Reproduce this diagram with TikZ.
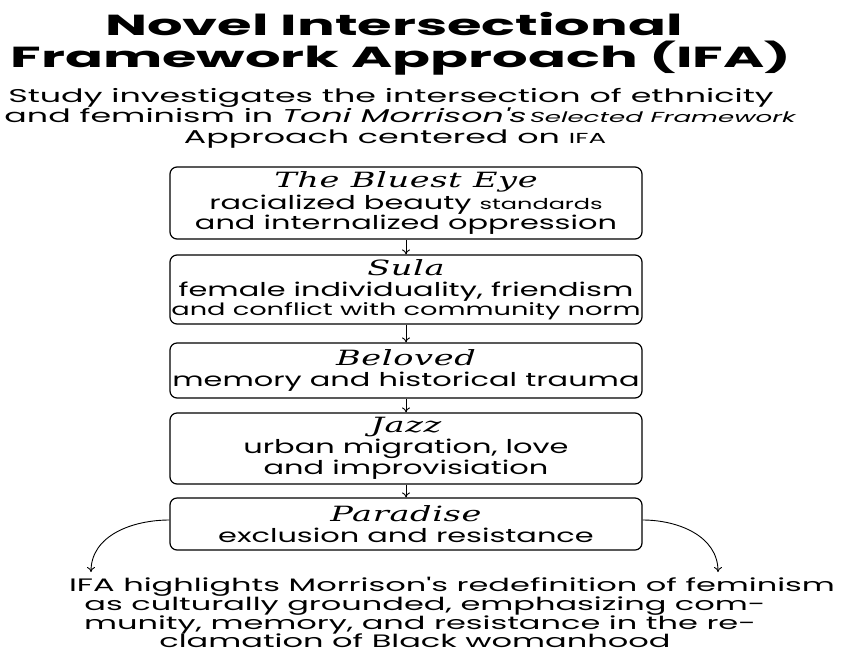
\documentclass[tikz,border=0pt]{standalone}
\usepackage{fontspec}
\setmainfont{Poppins}[FakeStretch=1.6]
\newfontfamily\titlef{Poppins}[FakeStretch=1.93]
\newfontfamily\subf{Poppins}[FakeStretch=1.8]
\newfontfamily\botf{Poppins}[FakeStretch=1.78]
\newfontfamily\bookf{DejaVu Serif}[FakeStretch=1.6,LetterSpace=3]
\usetikzlibrary{arrows.meta}
\tikzset{
  txt/.style={inner sep=0pt,anchor=base},
  titletxt/.style={txt,font=\titlef\fontsize{29}{29}\selectfont\bfseries},
  subtxt/.style={txt,font=\subf\fontsize{18.5}{18.5}\selectfont},
  bottxt/.style={txt,font=\botf\fontsize{18}{18}\selectfont},
  novel/.style={draw,line width=1.2pt,rounded corners=7pt,minimum width=472pt,align=center,inner sep=0pt,font=\fontsize{19}{19}\selectfont},
  flow/.style={line width=0.9pt,-{To[length=5pt,width=8pt]}},
}
\newcommand{\bk}[1]{{\bookf\itshape\fontsize{21}{21}\selectfont #1}}
\begin{document}
\begin{tikzpicture}[x=1pt,y=-1pt]
\useasboundingbox (0,0) rectangle (853,654);
\fill[white] (0,0) rectangle (853,654);
\node[titletxt] (t1) at (394,35) {Novel Intersectional};
\node[titletxt] (t2) at (401,67) {Framework Approach (IFA)};
\node[subtxt] (s1) at (391,102) {Study investigates the intersection of ethnicity};
\node[subtxt] (s2) at (400,122) {and feminism in \textit{Toni Morrison's}\,{\fontsize{14.5}{14.5}\selectfont\itshape Selected Framework}};
\node[subtxt] (s3) at (395,143) {Approach centered on {\fontsize{14.5}{14.5}\selectfont IFA}};
\node[novel,minimum height=72pt] (b1) at (406,203) {\bk{The Bluest Eye}\\[2pt] racialized beauty {\fontsize{15}{15}\selectfont standards}\\ and internalized oppression};
\node[novel,minimum height=69pt] (b2) at (406,289.5) {\bk{Sula}\\[2pt] female individuality, friendism\\ {\fontsize{17}{17}\selectfont and conflict with community norm}};
\node[novel,minimum height=55pt] (b3) at (406,370.5) {\bk{Beloved}\\[2pt] memory and historical trauma};
\node[novel,minimum height=71pt] (b4) at (406,448.5) {\bk{Jazz}\\[2pt] urban migration, love\\ and improvisiation};
\node[novel,minimum height=52pt] (b5) at (406,524) {\bk{Paradise}\\[2pt] exclusion and resistance};
\draw[flow] (b1) -- (b2);
\draw[flow] (b2) -- (b3);
\draw[flow] (b3) -- (b4);
\draw[flow] (b4) -- (b5);
\coordinate (lend) at (91,572);
\coordinate (rend) at (718,572);
\draw[flow] ([yshift=4pt]b5.west) to[out=180,in=90] (lend);
\draw[flow] ([yshift=4pt]b5.east) to[out=0,in=90] (rend);
\node[bottxt] (c1) at (452,591) {IFA highlights Morrison's redefinition of feminism};
\node[bottxt] (c2) at (425,610) {as culturally grounded, emphasizing com-};
\node[bottxt] (c3) at (420,629) {munity, memory, and resistance in the re-};
\node[bottxt] (c4) at (415,647) {clamation of Black womanhood};
\end{tikzpicture}
\end{document}
